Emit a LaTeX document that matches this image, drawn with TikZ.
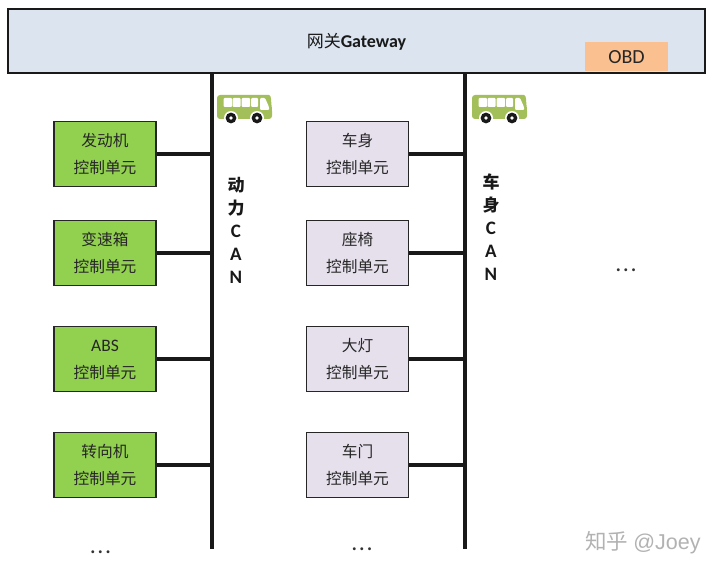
\documentclass[tikz,border=0pt]{standalone}
\usepackage{fontspec}
\setmainfont{Noto Sans CJK SC}
\newfontfamily\latinfont{Carlito}
\usetikzlibrary{positioning}
\definecolor{gatewayblue}{HTML}{DBE4EF}
\definecolor{obdorange}{HTML}{FAC08F}
\definecolor{ecugreen}{HTML}{92D050}
\definecolor{bodylilac}{HTML}{E6E0EC}
\definecolor{busgreen}{HTML}{A3BF5A}
\tikzset{
  ecubox/.style={draw=black!85,line width=1.6pt,minimum width=102pt,minimum height=65pt,inner sep=0pt,
    align=center,font=\fontsize{15.7}{26.5}\selectfont,text=black!85},
  stub/.style={line width=3.4pt,black!90},
  canline/.style={line width=3.4pt,black!90},
  canlabel/.style={font=\fontsize{17}{23}\selectfont\bfseries,align=center,text=black!90},
  dots/.style={font=\fontsize{24}{24}\selectfont\latinfont,text=black!80},
  busicon/.pic={
    \fill[busgreen,rounded corners=3pt] (-27,-13) -- (22,-13) to[out=0,in=100] (28,0) -- (28,11) -- (-27,11) -- cycle;
    % windows
    \foreach \w/\l in {-20.5/8.5,-11.5/8,-2.5/8.5,7/7}
      \fill[white,rounded corners=1pt] (\w,-10) rectangle ++(\l,9);
    \fill[white,rounded corners=1pt] (16,-10) -- (21,-10) -- (25,-1) -- (25,2) -- (16,2) -- cycle;
    \foreach \w in {-13,13}{
      \fill[white] (\w,10) circle (7pt);
      \fill[black!90] (\w,10) circle (5.4pt);
      \fill[white] (\w,10) circle (1.8pt);
    }
  }
}
\newcommand{\canletter}[1]{{\latinfont\fontsize{19}{23}\selectfont #1}}
\begin{document}
\begin{tikzpicture}[x=1pt,y=-1pt]
  \useasboundingbox (0,0) rectangle (720,575);
  % Gateway along the top
  \node[draw=black!90,fill=gatewayblue,line width=1.8pt,minimum width=697pt,minimum height=64pt,inner sep=0pt] (gateway) at (356.5,41) {};
  \node[fill=obdorange,minimum width=83pt,minimum height=29pt,inner sep=0pt,font=\fontsize{20}{20}\selectfont\latinfont,text=black!85] (obd) at (626.5,57) {OBD};
  \node[font=\fontsize{17}{17}\selectfont,text=black!90] (gwlabel) at (356.5,42) {网关{\latinfont\bfseries\fontsize{18}{18}\selectfont Gateway}};
  % CAN lines
  \coordinate (powerend) at (212,549);
  \coordinate (bodyend) at (465,549);
  \draw[canline] (gateway.south -| powerend) -- (powerend);
  \draw[canline] (gateway.south -| bodyend) -- (bodyend);
  % Units: {name/text/centre y}
  \foreach \n/\t/\y in {engine/发动机/154, gearbox/变速箱/253, abs/{\vphantom{控}\latinfont\fontsize{17.5}{26.5}\selectfont ABS}/359, steering/转向机/465}{
    \node[ecubox,fill=ecugreen] (\n) at (105,\y) {\t\\控制单元};
    \draw[stub] (\n.east) -- (\n.east -| powerend);
  }
  \foreach \n/\t/\y in {body/车身/154, seat/座椅/253, lamp/大灯/359, door/车门/465}{
    \node[ecubox,fill=bodylilac] (\n) at (357.5,\y) {\t\\控制单元};
    \draw[stub] (\n.east) -- (\n.east -| bodyend);
  }
  % Bus icons and labels
  \pic at (244,108) {busicon};
  \pic at (499,108) {busicon};
  \node[canlabel] (powerlabel) at (236,230) {动\\力\\\canletter{C}\\\canletter{A}\\\canletter{N}};
  \node[canlabel] (bodylabel) at (491,227) {车\\身\\\canletter{C}\\\canletter{A}\\\canletter{N}};
  % More units
  \node[dots] (moreleft) at (100.5,552) {.\kern1.5pt.\kern1.5pt.};
  \node[dots] (moremid) at (362,549) {.\kern1.5pt.\kern1.5pt.};
  \node[dots] (moreright) at (626,270) {.\kern1.5pt.\kern1.5pt.};
  \node[font=\fontsize{21.5}{21.5}\selectfont,text=black!30] (mark) at (643,543) {知乎 {\fontspec{Liberation Sans}@Joey}};
\end{tikzpicture}
\end{document}
